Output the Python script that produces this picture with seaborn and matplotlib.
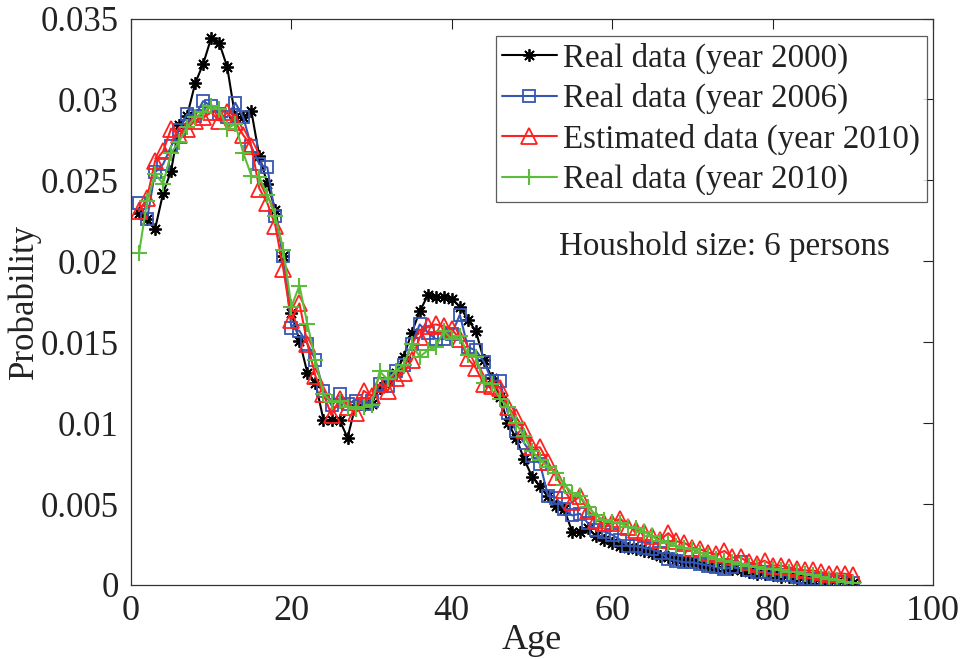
import numpy as np
import pandas as pd
import matplotlib
matplotlib.use("Agg")
import matplotlib.pyplot as plt
import seaborn as sns

ages = list(range(1, 91))

real_2000 = [
    0.0230, 0.0226, 0.0220, 0.0242, 0.0256, 0.0284, 0.0290, 0.0310, 0.0322, 0.0338,
    0.0335, 0.0320, 0.0289, 0.0289, 0.0293, 0.0265, 0.0248, 0.0232, 0.0203, 0.0168,
    0.0151, 0.0131, 0.0125, 0.0102, 0.0102, 0.0102, 0.0091, 0.0111, 0.0111, 0.0112,
    0.0122, 0.0126, 0.0131, 0.0141, 0.0156, 0.0169, 0.0179, 0.0178, 0.0178, 0.0177,
    0.0172, 0.0164, 0.0157, 0.0139, 0.0128, 0.0116, 0.0100, 0.0091, 0.0078, 0.0067,
    0.0061, 0.0055, 0.0049, 0.0047, 0.0033, 0.0033, 0.0035, 0.0030, 0.0028, 0.0026,
    0.0024, 0.0023, 0.0022, 0.0021, 0.0020, 0.0018, 0.0017, 0.0016, 0.0015, 0.0014,
    0.0013, 0.0012, 0.0011, 0.0011, 0.0010, 0.0009, 0.0008, 0.0007, 0.0007, 0.0006,
    0.0005, 0.0005, 0.0004, 0.0004, 0.0003, 0.0003, 0.0002, 0.0002, 0.0002, 0.0001,
]

real_2006 = [
    0.0236, 0.0226, 0.0255, 0.0260, 0.0271, 0.0281, 0.0291, 0.0290, 0.0299, 0.0296,
    0.0291, 0.0289, 0.0298, 0.0289, 0.0271, 0.0260, 0.0258, 0.0228, 0.0203, 0.0159,
    0.0157, 0.0149, 0.0139, 0.0120, 0.0111, 0.0118, 0.0112, 0.0114, 0.0112, 0.0114,
    0.0124, 0.0123, 0.0132, 0.0136, 0.0149, 0.0161, 0.0156, 0.0152, 0.0152, 0.0155,
    0.0167, 0.0147, 0.0145, 0.0138, 0.0126, 0.0126, 0.0106, 0.0095, 0.0088, 0.0080,
    0.0075, 0.0055, 0.0054, 0.0047, 0.0043, 0.0044, 0.0038, 0.0034, 0.0033, 0.0031,
    0.0028, 0.0024, 0.0024, 0.0023, 0.0022, 0.0020, 0.0016, 0.0015, 0.0014, 0.0014,
    0.0013, 0.0012, 0.0011, 0.0010, 0.0011, 0.0014, 0.0009, 0.0008, 0.0008, 0.0007,
    0.0006, 0.0006, 0.0005, 0.0004, 0.0004, 0.0003, 0.0003, 0.0002, 0.0002, 0.0001,
]

estimated_2010 = [
    0.0231, 0.0239, 0.0262, 0.0268, 0.0282, 0.0278, 0.0282, 0.0287, 0.0289, 0.0292,
    0.0287, 0.0292, 0.0286, 0.0278, 0.0271, 0.0245, 0.0236, 0.0222, 0.0195, 0.0164,
    0.0174, 0.0149, 0.0129, 0.0118, 0.0105, 0.0115, 0.0110, 0.0106, 0.0120, 0.0117,
    0.0124, 0.0120, 0.0128, 0.0131, 0.0139, 0.0153, 0.0160, 0.0161, 0.0160, 0.0158,
    0.0152, 0.0140, 0.0134, 0.0124, 0.0123, 0.0122, 0.0110, 0.0104, 0.0096, 0.0085,
    0.0085, 0.0076, 0.0067, 0.0059, 0.0051, 0.0055, 0.0046, 0.0040, 0.0038, 0.0038,
    0.0041, 0.0036, 0.0034, 0.0033, 0.0030, 0.0028, 0.0032, 0.0027, 0.0026, 0.0023,
    0.0022, 0.0020, 0.0019, 0.0021, 0.0017, 0.0017, 0.0014, 0.0013, 0.0015, 0.0012,
    0.0012, 0.0011, 0.0010, 0.0009, 0.0009, 0.0008, 0.0007, 0.0007, 0.0007, 0.0006,
]

real_2010 = [
    0.0205, 0.0237, 0.0254, 0.0248, 0.0267, 0.0274, 0.0283, 0.0289, 0.0292, 0.0296,
    0.0294, 0.0282, 0.0285, 0.0267, 0.0253, 0.0252, 0.0241, 0.0228, 0.0207, 0.0172,
    0.0185, 0.0161, 0.0139, 0.0118, 0.0113, 0.0114, 0.0110, 0.0109, 0.0110, 0.0111,
    0.0132, 0.0127, 0.0132, 0.0136, 0.0149, 0.0141, 0.0145, 0.0147, 0.0157, 0.0152,
    0.0154, 0.0142, 0.0141, 0.0125, 0.0124, 0.0115, 0.0110, 0.0100, 0.0092, 0.0083,
    0.0077, 0.0073, 0.0069, 0.0062, 0.0057, 0.0055, 0.0048, 0.0043, 0.0040, 0.0039,
    0.0038, 0.0036, 0.0035, 0.0033, 0.0030, 0.0027, 0.0026, 0.0024, 0.0023, 0.0022,
    0.0020, 0.0018, 0.0016, 0.0015, 0.0014, 0.0013, 0.0012, 0.0011, 0.0010, 0.0010,
    0.0009, 0.0008, 0.0008, 0.0007, 0.0006, 0.0005, 0.0004, 0.0003, 0.0002, 0.0001,
]

series_labels = [
    "Real data (year 2000)",
    "Real data (year 2006)",
    "Estimated data (year 2010)",
    "Real data (year 2010)",
]
x_ticks = [0, 20, 40, 60, 80, 100]
y_ticks = [0, 0.005, 0.01, 0.015, 0.02, 0.025, 0.03, 0.035]

sns.set_style("white")
plt.rcParams["font.family"] = ["Liberation Serif", "DejaVu Serif"]

fig = plt.figure(figsize=(9.74, 6.59), dpi=100)
ax = fig.add_axes([0.1345, 0.1123, 0.8234, 0.8595])

styles = [
    dict(color="black", marker=(8, 2, 0), markersize=9, markeredgewidth=1.3),
    dict(color="#3656b4", marker="s", markersize=8.5, markerfacecolor="none", markeredgewidth=1.3),
    dict(color="#ff2020", marker="^", markersize=11, markerfacecolor="none", markeredgewidth=1.3),
    dict(color="#5cbd3c", marker="+", markersize=11, markeredgewidth=1.5),
]

for values, label, st in zip([real_2000, real_2006, estimated_2010, real_2010], series_labels, styles):
    df = pd.DataFrame({"Age": ages, "Probability": values})
    sns.lineplot(data=df, x="Age", y="Probability", ax=ax, label=label,
                 linewidth=1.5, markeredgecolor=st["color"], **st)

ax.set_xlim(0, 100)
ax.set_ylim(0, 0.035)
ax.set_xticks(x_ticks)
ax.set_yticks(y_ticks)
ax.set_xticklabels([f"{v:g}" for v in x_ticks])
ax.set_yticklabels([f"{v:g}" for v in y_ticks])
ax.tick_params(direction="in", length=7, width=0.8, top=True, right=True,
               colors="#222222")
ax.tick_params(axis="y", pad=9, labelsize=25)
ax.tick_params(axis="x", pad=7, labelsize=26)
for sp in ax.spines.values():
    sp.set_color("#333333")
    sp.set_linewidth(0.9)

ax.set_xlabel("Age", fontsize=26, color="#222222")
ax.set_ylabel("Probability", fontsize=25, color="#222222")
ax.xaxis.set_label_coords(0.5, -0.068)
ax.yaxis.set_label_coords(-0.112, 0.5)

leg = ax.legend(loc="upper right", bbox_to_anchor=(0.9925, 0.969), borderaxespad=0,
                fontsize=23.8, frameon=True, fancybox=False, edgecolor="#333333",
                handlelength=1.65, handletextpad=0.2, borderpad=0.2, labelspacing=0.28)
leg.get_frame().set_linewidth(0.9)
for t in leg.get_texts():
    t.set_color("#222222")

ax.text(0.534, 0.598, "Houshold size: 6 persons", transform=ax.transAxes,
        fontsize=23.8, va="center", ha="left", color="#222222")

fig.savefig("out.png", dpi=100)
